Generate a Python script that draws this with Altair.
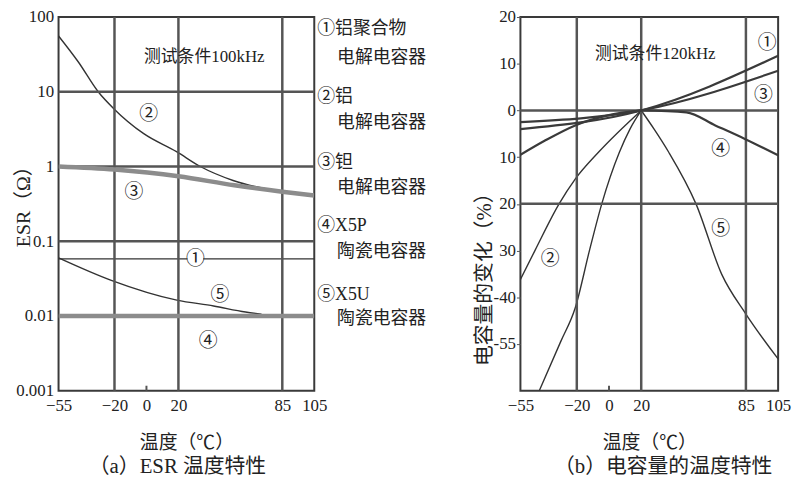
import altair as alt
import pandas as pd

# ---------------- data ----------------
temp_ticks = [-55, -20, 0, 20, 85, 105]
temp_grid = [-20, 20, 85]

# (a) ESR vs temperature (log scale)
esr_ticks = [0.001, 0.01, 0.1, 1, 10, 100]
esr_grid = [10, 1, 0.1, 0.01]
esr1_T = [-55, 105]
esr1_V = [0.058, 0.058]
esr2_T = [-55, -42.6, -30.2, -20.3, -1.7, 18.8, 33.7, 54.2, 84.5, 105]
esr2_V = [55.8, 25, 10, 5.9, 2.75, 1.58, 1.0, 0.65, 0.46, 0.40]
esr3_T = [-55, -20, 20, 55, 85, 105]
esr3_V = [1.0, 0.91, 0.74, 0.56, 0.46, 0.41]
esr4_T = [-55, 105]
esr4_V = [0.01, 0.01]
esr5_T = [-55, -22, 19, 42, 62, 72]
esr5_V = [0.06, 0.030, 0.0163, 0.0136, 0.0113, 0.0106]
esr_mark_text = ["①", "②", "③", "④", "⑤"]
esr_mark_T = [30.6, 1.4, -7.9, 38.6, 46]
esr_mark_V = [0.058, 5.1, 0.46, 0.0046, 0.019]

# (b) capacitance change vs temperature
cap_tick_values = [20, 10, 0, -10, -20, -30, -40, -50]
cap_tick_labels = ["20", "10", "0", "10", "20", "30", "-40", "-55"]
cap_grid = [0, -20]
cap1_T = [-55, 20, 105]
cap1_V = [-4, 0, 11.7]
cap2_T = [-55, -46, -31, -21, -6.4, 20]
cap2_V = [-36.2, -30, -20, -14.7, -8.9, 0]
cap3_T = [-55, 20, 105]
cap3_V = [-2.5, 0, 8.5]
cap4a_T = [-55, -40, -21, 0, 20]
cap4a_V = [-9.5, -6.5, -3.2, -1.0, 0]
cap4b_T = [20, 48, 66, 85, 105]
cap4b_V = [0, -0.4, -3.2, -6.2, -9.6]
cap5a_T = [-43.3, -30, -21, -12, -4.5, 6.5, 13, 20]
cap5a_V = [-60, -49.5, -42.3, -29.8, -20, -8.9, -4, 0]
cap5b_T = [20, 28, 37, 54, 70, 85, 105]
cap5b_V = [0, -4, -8.9, -20, -35.1, -43.6, -53.2]
cap_mark_text = ["①", "②", "③", "④", "⑤"]
cap_mark_T = [98.2, -36.5, 95.8, 69.3, 69.3]
cap_mark_V = [14.5, -31.9, 3.4, -8.3, -25.3]

legend_lines = ["①铝聚合物", "电解电容器", "②铝", "电解电容器", "③钽", "电解电容器",
                "④X5P", "陶瓷电容器", "⑤X5U", "陶瓷电容器"]

# ---------------- styling / layout ----------------
SERIF = "Liberation Serif, Noto Sans CJK SC"
CJK = "Noto Sans CJK SC"
INK = "#222222"
GRID = "#555555"
W1, W2, H = 258, 260, 377

legend_px = [261, 281, 261, 281, 261, 281, 261, 281, 261, 281]
legend_py = [12, 41, 81, 107, 147, 173, 211, 237, 280, 305]

xs = alt.Scale(domain=[-55, 105], nice=False, zero=False)
ys_esr = alt.Scale(type="log", domain=[0.001, 100], nice=False)
ys_cap = alt.Scale(domain=[-60, 20], nice=False, zero=False)


def series_df(pairs):
    rows = []
    for name, T, V in pairs:
        for t, v in zip(T, V):
            rows.append({"s": name, "T": t, "V": v})
    return pd.DataFrame(rows)


def x_axis():
    return alt.Axis(values=temp_ticks, labelFont=SERIF, labelFontSize=17, labelColor=INK,
                    ticks=False, domain=False, grid=False, labelPadding=7,
                    labelFlush=False, labelOverlap=False,
                    title="温度（℃）", titleFont=SERIF, titleFontSize=19,
                    titleFontWeight="normal", titleColor=INK, titleY=52,
                    titleBaseline="middle")


cap_label_expr = "''"
for v, l in reversed(list(zip(cap_tick_values, cap_tick_labels))):
    cap_label_expr = f"datum.value == {v} ? '{l}' : ({cap_label_expr})"

esr_y_axis = alt.Axis(values=esr_ticks, format=".3~f", labelFont=SERIF,
                      labelFontSize=17, labelColor=INK, ticks=False, domain=False,
                      grid=False, labelPadding=5, labelOverlap=False,
                      title="ESR（Ω）", titleFont=SERIF, titleFontSize=20,
                      titleFontWeight="normal", titleColor=INK,
                      titleX=-35, titleY=186, titleAlign="center",
                      titleBaseline="middle")
cap_y_axis = alt.Axis(values=cap_tick_values, labelExpr=cap_label_expr,
                      labelFont=SERIF, labelFontSize=17, labelColor=INK,
                      ticks=True, tickSize=4, tickColor=GRID, domain=False,
                      grid=False, labelPadding=1, labelOverlap=False,
                      title="电容量的变化（%）", titleFont=SERIF, titleFontSize=21,
                      titleFontWeight="normal", titleColor=INK,
                      titleX=-36, titleY=259, titleAlign="center",
                      titleBaseline="middle")

# ---------------- panel (a) ----------------
a_thin = alt.Chart(series_df([("1", esr1_T, esr1_V), ("2", esr2_T, esr2_V),
                              ("5", esr5_T, esr5_V)])).mark_line(
    color="#333333", strokeWidth=1.4, clip=True, interpolate="monotone").encode(
    x=alt.X("T:Q", scale=xs, axis=x_axis()),
    y=alt.Y("V:Q", scale=ys_esr, axis=esr_y_axis),
    detail="s:N")
a_vgrid = alt.Chart(pd.DataFrame({"T": temp_grid})).mark_rule(
    color=GRID, strokeWidth=2.5).encode(x=alt.X("T:Q", scale=xs))
a_hgrid = alt.Chart(pd.DataFrame({"V": esr_grid})).mark_rule(
    color=GRID, strokeWidth=2.5).encode(y=alt.Y("V:Q", scale=ys_esr))
a_zero = alt.Chart(pd.DataFrame({"T": [0]})).mark_rule(color=GRID, strokeWidth=2).encode(
    x=alt.X("T:Q", scale=xs), y=alt.value(H - 5), y2=alt.value(H))
a_thick = alt.Chart(series_df([("3", esr3_T, esr3_V), ("4", esr4_T, esr4_V)])).mark_line(
    color="#8c8c8c", strokeWidth=4.5, clip=True, interpolate="monotone").encode(
    x=alt.X("T:Q", scale=xs), y=alt.Y("V:Q", scale=ys_esr), detail="s:N")
a_marks_df = pd.DataFrame({"lab": esr_mark_text, "T": esr_mark_T, "V": esr_mark_V})
a_bg = alt.Chart(a_marks_df).mark_point(filled=True, color="white", opacity=1, size=260).encode(
    x=alt.X("T:Q", scale=xs), y=alt.Y("V:Q", scale=ys_esr))
a_marks = alt.Chart(a_marks_df).mark_text(font=CJK, fontSize=19, color=INK).encode(
    x=alt.X("T:Q", scale=xs), y=alt.Y("V:Q", scale=ys_esr), text="lab:N")
a_cond = alt.Chart(pd.DataFrame({"t": ["测试条件100kHz"]})).mark_text(
    font=SERIF, fontSize=17, color=INK).encode(
    x=alt.value(147), y=alt.value(40), text="t:N")
a_legend = alt.Chart(pd.DataFrame({"t": legend_lines, "px": legend_px, "py": legend_py})).mark_text(
    font=SERIF, fontSize=18, color=INK, align="left", baseline="middle").encode(
    x=alt.X("px:Q", scale=None), y=alt.Y("py:Q", scale=None), text="t:N")
a_caption = alt.Chart(pd.DataFrame({"t": ["（a）ESR 温度特性"]})).mark_text(
    font=SERIF, fontSize=21, color=INK).encode(
    x=alt.value(120), y=alt.value(454), text="t:N")

left = alt.layer(a_thin, a_vgrid, a_hgrid, a_zero, a_thick, a_bg, a_marks,
                 a_cond, a_legend, a_caption).properties(width=W1, height=H)

# ---------------- panel (b) ----------------
b_thin = alt.Chart(series_df([("2", cap2_T, cap2_V), ("5a", cap5a_T, cap5a_V),
                              ("5b", cap5b_T, cap5b_V)])).mark_line(
    color="#333333", strokeWidth=1.4, clip=True, interpolate="monotone").encode(
    x=alt.X("T:Q", scale=xs, axis=x_axis()),
    y=alt.Y("V:Q", scale=ys_cap, axis=cap_y_axis),
    detail="s:N")
b_vgrid = alt.Chart(pd.DataFrame({"T": temp_grid})).mark_rule(
    color=GRID, strokeWidth=2.5).encode(x=alt.X("T:Q", scale=xs))
b_hgrid = alt.Chart(pd.DataFrame({"V": cap_grid})).mark_rule(
    color=GRID, strokeWidth=2.5).encode(y=alt.Y("V:Q", scale=ys_cap))
b_zero = alt.Chart(pd.DataFrame({"T": [0]})).mark_rule(color=GRID, strokeWidth=2).encode(
    x=alt.X("T:Q", scale=xs), y=alt.value(H - 5), y2=alt.value(H))
b_mid = alt.Chart(series_df([("1", cap1_T, cap1_V), ("3", cap3_T, cap3_V),
                             ("4a", cap4a_T, cap4a_V), ("4b", cap4b_T, cap4b_V)])).mark_line(
    color="#3a3a3a", strokeWidth=2.2, clip=True, interpolate="monotone").encode(
    x=alt.X("T:Q", scale=xs), y=alt.Y("V:Q", scale=ys_cap), detail="s:N")
b_marks = alt.Chart(pd.DataFrame({"lab": cap_mark_text, "T": cap_mark_T, "V": cap_mark_V})).mark_text(
    font=CJK, fontSize=19, color=INK).encode(
    x=alt.X("T:Q", scale=xs), y=alt.Y("V:Q", scale=ys_cap), text="lab:N")
b_cond = alt.Chart(pd.DataFrame({"t": ["测试条件120kHz"]})).mark_text(
    font=SERIF, fontSize=17, color=INK).encode(
    x=alt.value(136), y=alt.value(37), text="t:N")
b_caption = alt.Chart(pd.DataFrame({"t": ["（b）电容量的温度特性"]})).mark_text(
    font=SERIF, fontSize=21, color=INK).encode(
    x=alt.value(144), y=alt.value(454), text="t:N")

right = alt.layer(b_thin, b_vgrid, b_hgrid, b_zero, b_mid, b_marks,
                  b_cond, b_caption).properties(width=W2, height=H)

chart = alt.hconcat(left, right, spacing=208, bounds="flush").properties(
    padding={"left": 5, "top": -3, "right": 0, "bottom": 0},
    background="white",
).configure_view(stroke="#3a3a3a", strokeWidth=2)

chart.save("out.html", embed_options={"renderer": "svg", "actions": False})
